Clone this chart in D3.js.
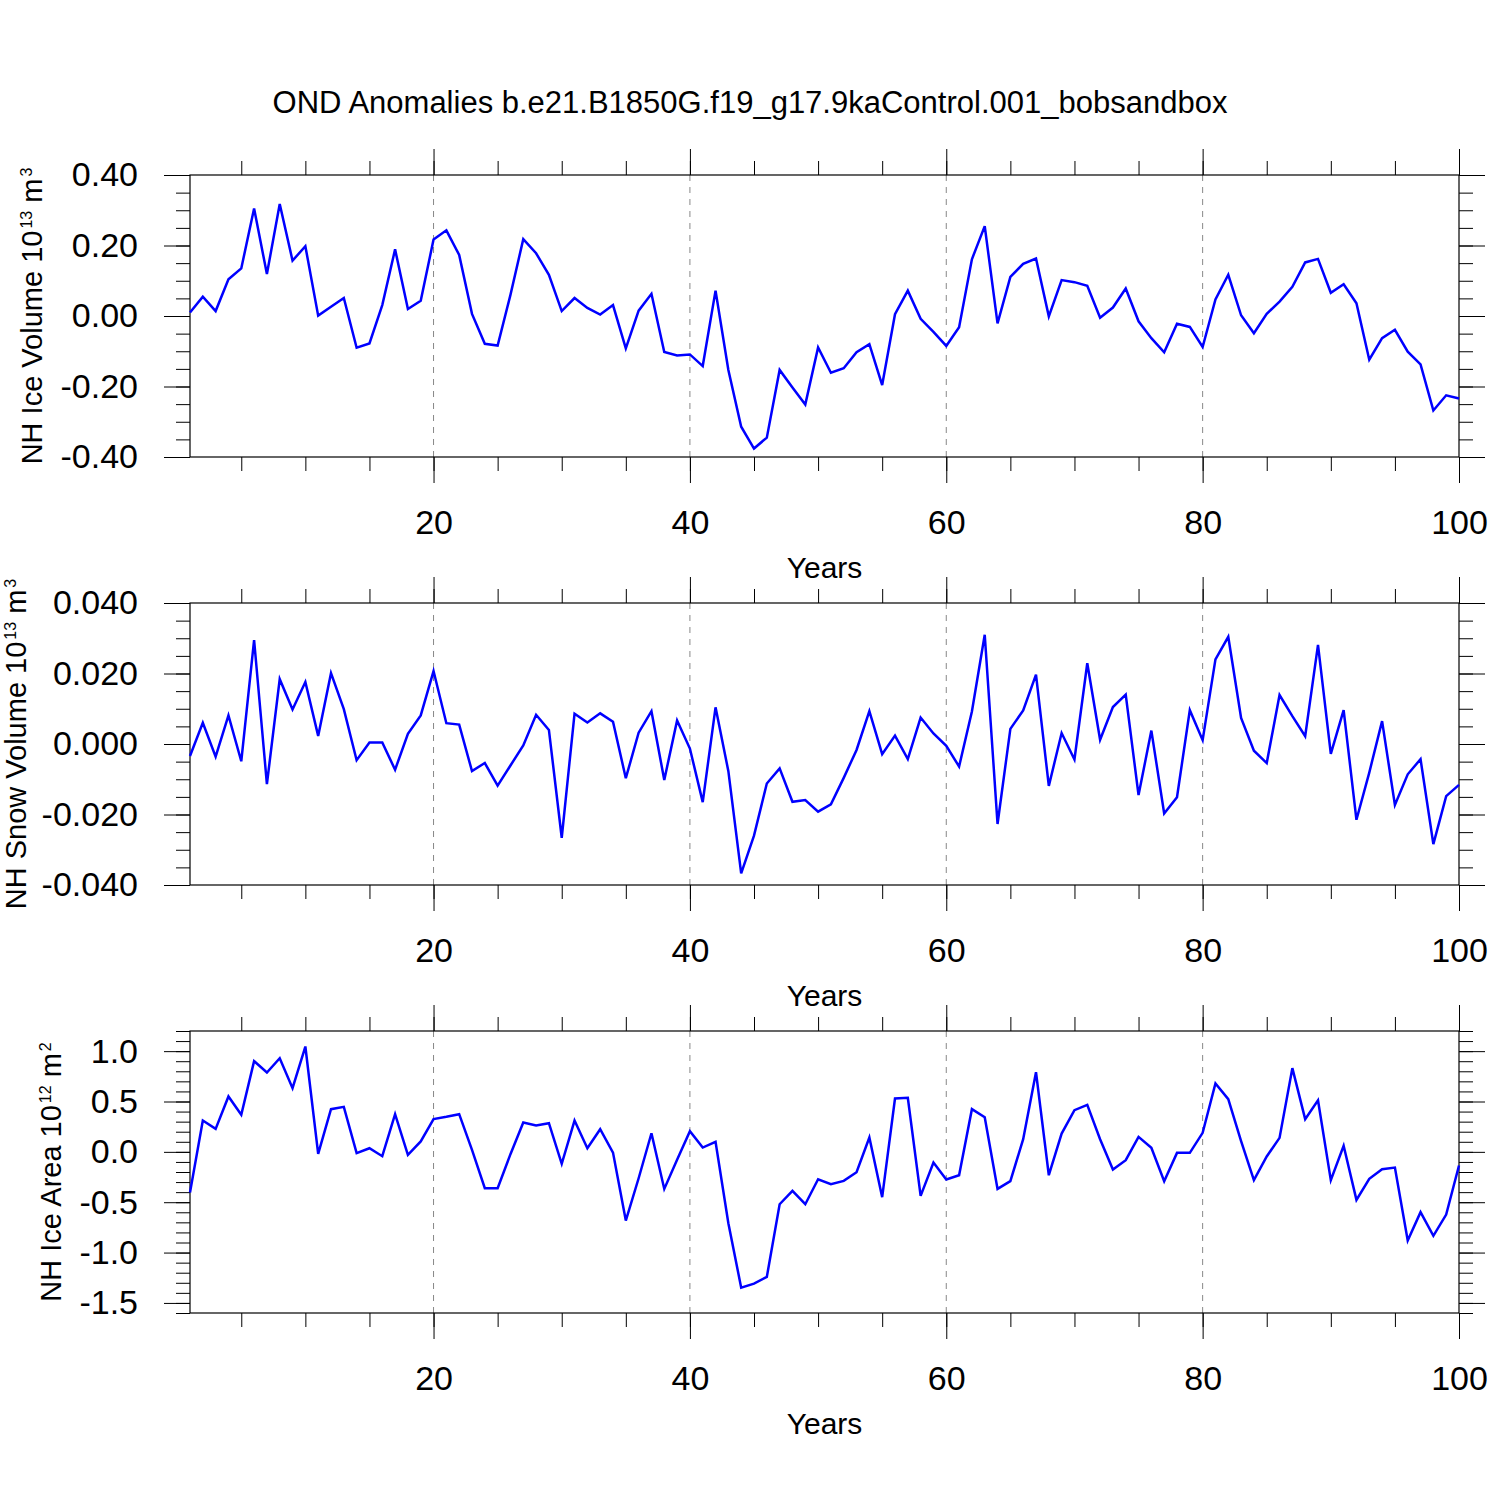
<!DOCTYPE html>
<html>
<head>
<meta charset="utf-8">
<script src="https://cdn.jsdelivr.net/npm/d3@7"></script>
<style>
  body { margin: 0; background: #fff; }
  svg text { font-family: "Liberation Sans", Arial, Helvetica, sans-serif; }
</style>
</head>
<body>
<div id="chart-container"></div>
<script>
// data (OND anomalies, years 1-100)
const years = d3.range(1, 101);

const iceVolume = [
  0.010, 0.055, 0.014, 0.104, 0.135, 0.305, 0.119, 0.318, 0.157, 0.198,
  0.001, 0.026, 0.051, -0.090, -0.078, 0.031, 0.189, 0.020, 0.043, 0.217,
  0.243, 0.173, 0.006, -0.079, -0.084, 0.060, 0.218, 0.178, 0.117, 0.014,
  0.051, 0.023, 0.004, 0.031, -0.092, 0.015, 0.063, -0.102, -0.112, -0.109,
  -0.142, 0.072, -0.153, -0.314, -0.376, -0.345, -0.153, -0.203, -0.251, -0.089,
  -0.161, -0.148, -0.103, -0.080, -0.196, 0.005, 0.072, -0.008, -0.045, -0.085,
  -0.032, 0.161, 0.255, -0.021, 0.111, 0.148, 0.163, -0.001, 0.102, 0.096,
  0.086, -0.005, 0.024, 0.078, -0.015, -0.063, -0.103, -0.022, -0.031, -0.088,
  0.047, 0.117, 0.002, -0.049, 0.006, 0.041, 0.083, 0.152, 0.162, 0.066,
  0.090, 0.036, -0.124, -0.063, -0.039, -0.101, -0.137, -0.268, -0.225, -0.234
];

const snowVolume = [
  -0.0034, 0.0060, -0.0036, 0.0081, -0.0049, 0.0295, -0.0114, 0.0184, 0.0098, 0.0176,
  0.0023, 0.0201, 0.0099, -0.0046, 0.0004, 0.0004, -0.0073, 0.0029, 0.0081, 0.0207,
  0.0059, 0.0055, -0.0077, -0.0054, -0.0118, -0.0061, -0.0004, 0.0083, 0.0040, -0.0266,
  0.0086, 0.0061, 0.0087, 0.0063, -0.0097, 0.0032, 0.0093, -0.0102, 0.0067, -0.0013,
  -0.0165, 0.0104, -0.0077, -0.0367, -0.0260, -0.0112, -0.0069, -0.0164, -0.0159, -0.0192,
  -0.0171, -0.0096, -0.0017, 0.0093, -0.0029, 0.0024, -0.0043, 0.0075, 0.0030, -0.0005,
  -0.0064, 0.0092, 0.0310, -0.0227, 0.0043, 0.0095, 0.0197, -0.0119, 0.0031, -0.0044,
  0.0229, 0.0012, 0.0105, 0.0140, -0.0145, 0.0038, -0.0197, -0.0151, 0.0096, 0.0011,
  0.0240, 0.0304, 0.0074, -0.0019, -0.0054, 0.0139, 0.0079, 0.0022, 0.0281, -0.0028,
  0.0096, -0.0215, -0.0081, 0.0065, -0.0173, -0.0086, -0.0043, -0.0284, -0.0148, -0.0116
];

const iceArea = [
  -0.404, 0.311, 0.228, 0.550, 0.368, 0.901, 0.788, 0.930, 0.632, 1.046,
  -0.020, 0.424, 0.447, -0.013, 0.036, -0.043, 0.374, -0.030, 0.103, 0.325,
  0.348, 0.374, 0.020, -0.361, -0.361, -0.023, 0.291, 0.262, 0.285, -0.119,
  0.311, 0.036, 0.225, -0.007, -0.682, -0.262, 0.185, -0.368, -0.079, 0.205,
  0.043, 0.099, -0.709, -1.348, -1.308, -1.242, -0.520, -0.387, -0.520, -0.272,
  -0.321, -0.288, -0.202, 0.142, -0.450, 0.530, 0.536, -0.437, -0.106, -0.275,
  -0.232, 0.424, 0.344, -0.368, -0.291, 0.126, 0.791, -0.232, 0.182, 0.414,
  0.467, 0.126, -0.175, -0.083, 0.149, 0.040, -0.291, -0.010, -0.010, 0.189,
  0.679, 0.523, 0.106, -0.281, -0.046, 0.139, 0.831, 0.325, 0.513, -0.281,
  0.060, -0.477, -0.268, -0.172, -0.156, -0.881, -0.599, -0.834, -0.623, -0.136
];

// tick values
const xMajorTicks = [20, 40, 60, 80, 100];
const xMinorTicks = d3.range(5, 101, 5);
const xGridTicks = [20, 40, 60, 80];

const iceVolMajor = [-0.4, -0.2, 0, 0.2, 0.4];
const iceVolMinor = d3.range(-8, 9).map(d => d * 0.05);
const snowVolMajor = [-0.04, -0.02, 0, 0.02, 0.04];
const snowVolMinor = d3.range(-8, 9).map(d => d * 0.005);
const iceAreaMajor = [-1.5, -1.0, -0.5, 0, 0.5, 1.0];
const iceAreaMinor = d3.range(-16, 13).map(d => d * 0.1);

const titleText = "OND Anomalies b.e21.B1850G.f19_g17.9kaControl.001_bobsandbox";

// 尺寸
const W = 1500, H = 1500;
const plotLeft = 190, plotRight = 1459;
const panelH = 282;
const majorLen = 26, minorLen = 14;

const svg = d3.select("#chart-container")
  .append("svg")
  .attr("width", W)
  .attr("height", H);

// 共用 x 比例尺
const x = d3.scaleLinear().domain([1, 100]).range([plotLeft, plotRight]);

// 用一般減號 (不是 U+2212)
const hyphen = f => d => f(d).replace("\u2212", "-");

// 標題
svg.append("text")
  .attr("x", 750)
  .attr("y", 113)
  .attr("text-anchor", "middle")
  .style("font-size", "31px")
  .text(titleText);

const panels = [
  { top: 175, values: iceVolume, domain: [-0.4, 0.4], major: iceVolMajor, minor: iceVolMinor,
    fmt: d3.format(".2f"), label: ["NH Ice Volume 10", "13", " m", "3"], labelX: 42 },
  { top: 603, values: snowVolume, domain: [-0.04, 0.04], major: snowVolMajor, minor: snowVolMinor,
    fmt: d3.format(".3f"), label: ["NH Snow Volume 10", "13", " m", "3"], labelX: 26 },
  { top: 1031, values: iceArea, domain: [-1.6, 1.2], major: iceAreaMajor, minor: iceAreaMinor,
    fmt: d3.format(".1f"), label: ["NH Ice Area 10", "12", " m", "2"], labelX: 61 }
];

panels.forEach(p => {
  const bottom = p.top + panelH;
  const y = d3.scaleLinear().domain(p.domain).range([bottom, p.top]);
  const g = svg.append("g");

  // 垂直虛線網格
  g.selectAll(".grid")
    .data(xGridTicks)
    .join("line")
    .attr("x1", d => x(d))
    .attr("x2", d => x(d))
    .attr("y1", p.top)
    .attr("y2", bottom)
    .attr("stroke", "#888")
    .attr("stroke-width", 1)
    .attr("stroke-dasharray", "6,6");

  // 軸 (刻度朝外)
  const addAxis = (axis, tx, ty) => {
    const a = g.append("g")
      .attr("transform", `translate(${tx},${ty})`)
      .call(axis)
      .call(s => s.select(".domain").remove());
    a.selectAll(".tick line").attr("stroke", "#000").attr("stroke-width", 1);
    a.selectAll(".tick text")
      .attr("fill", "#000")
      .style("font-size", "34px")
      .style("font-family", "'Liberation Sans', Arial, Helvetica, sans-serif");
    return a;
  };

  addAxis(d3.axisLeft(y).tickValues(p.minor).tickSize(minorLen).tickFormat(""), plotLeft, 0);
  addAxis(d3.axisLeft(y).tickValues(p.major).tickSize(majorLen).tickPadding(26).tickFormat(hyphen(p.fmt)), plotLeft, 0);
  addAxis(d3.axisRight(y).tickValues(p.minor).tickSize(minorLen).tickFormat(""), plotRight, 0);
  addAxis(d3.axisRight(y).tickValues(p.major).tickSize(majorLen).tickFormat(""), plotRight, 0);
  addAxis(d3.axisTop(x).tickValues(xMinorTicks).tickSize(minorLen).tickFormat(""), 0, p.top);
  addAxis(d3.axisTop(x).tickValues(xMajorTicks).tickSize(majorLen).tickFormat(""), 0, p.top);
  addAxis(d3.axisBottom(x).tickValues(xMinorTicks).tickSize(minorLen).tickFormat(""), 0, bottom);
  addAxis(d3.axisBottom(x).tickValues(xMajorTicks).tickSize(majorLen).tickPadding(27).tickFormat(d3.format("d")), 0, bottom);

  // 邊框
  g.append("rect")
    .attr("x", plotLeft)
    .attr("y", p.top)
    .attr("width", plotRight - plotLeft)
    .attr("height", panelH)
    .attr("fill", "none")
    .attr("stroke", "#000")
    .attr("stroke-width", 1.2);

  // 折線
  const line = d3.line()
    .x((d, i) => x(years[i]))
    .y(d => y(d));

  g.append("path")
    .datum(p.values)
    .attr("fill", "none")
    .attr("stroke", "#0000ff")
    .attr("stroke-width", 2.5)
    .attr("d", line);

  // x 軸標題
  g.append("text")
    .attr("x", (plotLeft + plotRight) / 2)
    .attr("y", bottom + 121)
    .attr("text-anchor", "middle")
    .style("font-size", "30px")
    .text("Years");

  // y 軸標題 (含上標)
  const yt = g.append("text")
    .attr("transform", `translate(${p.labelX},${(p.top + bottom) / 2}) rotate(-90)`)
    .attr("text-anchor", "middle")
    .style("font-size", "29px");
  yt.append("tspan").text(p.label[0]);
  yt.append("tspan").attr("dx", 2).attr("dy", -10).style("font-size", "16px").text(p.label[1]);
  yt.append("tspan").attr("dy", 10).text(p.label[2]);
  yt.append("tspan").attr("dx", 2).attr("dy", -10).style("font-size", "16px").text(p.label[3]);
});
</script>
</body>
</html>
